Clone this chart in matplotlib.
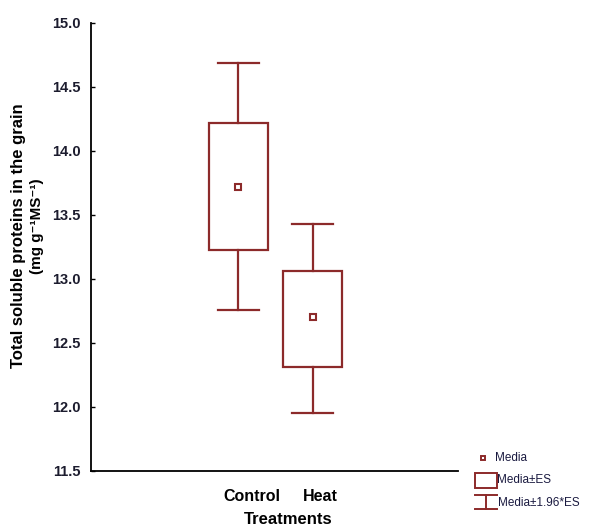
import matplotlib
matplotlib.use("Agg")
import matplotlib.pyplot as plt
from matplotlib.lines import Line2D
from matplotlib.patches import Rectangle
import matplotlib.transforms as mtransforms

plt.rcParams['font.family'] = ['Liberation Sans', 'DejaVu Sans']

# Data
categories = ["Control", "Heat"]
means = [13.72, 12.70]
se_upper = [14.22, 13.06]
se_lower = [13.225, 12.31]
ci_upper = [14.685, 13.43]
ci_lower = [12.755, 11.95]
yticks = [11.5, 12.0, 12.5, 13.0, 13.5, 14.0, 14.5, 15.0]

col = "#8c2a2a"
W, H = 590, 527
fig = plt.figure(figsize=(W/100, H/100), dpi=100)
ax = fig.add_axes([90.7/W, 1-470.7/H, (458-90.7)/W, (470.7-23)/H])

positions = [0, 1]
box_w = 0.8
cap_w = 0.55
for x, m, su, sl, cu, cl in zip(positions, means, se_upper, se_lower, ci_upper, ci_lower):
    ax.add_patch(Rectangle((x-box_w/2, sl), box_w, su-sl, fill=False, edgecolor=col, lw=1.6))
    ax.plot([x, x], [su, cu], color=col, lw=1.6)
    ax.plot([x, x], [sl, cl], color=col, lw=1.6)
    ax.plot([x-cap_w/2, x+cap_w/2], [cu, cu], color=col, lw=1.6)
    ax.plot([x-cap_w/2, x+cap_w/2], [cl, cl], color=col, lw=1.6)
    ax.plot([x], [m], marker='s', ms=4.5, mfc='white', mec=col, mew=1.5, ls='none')

ax.set_xlim(-1.997, 2.966)
ax.set_ylim(11.5, 15.0)
ax.set_yticks(yticks)
ax.set_yticklabels([f"{v:.1f}" for v in yticks], fontsize=10.5, fontweight='bold', color='#1c1c2e')
ax.tick_params(axis='y', direction='in', length=3, width=1, pad=7)
ax.set_xticks(positions)
ax.set_xticklabels(categories, fontsize=11.5, fontweight='bold')
ax.tick_params(axis='x', length=0, pad=13)
offsets = [13.5, 7.5]
for lbl, dx in zip(ax.get_xticklabels(), offsets):
    lbl.set_transform(lbl.get_transform() + mtransforms.ScaledTranslation(dx/100, 0, fig.dpi_scale_trans))

for s in ['top', 'right']:
    ax.spines[s].set_visible(False)
for s in ['left', 'bottom']:
    ax.spines[s].set_linewidth(1.3)
    ax.spines[s].set_color('black')

fig.text(288/W, 1-519/H, "Treatments", ha='center', va='center', fontsize=12, fontweight='bold')
fig.text(18.5/W, 1-236/H, "Total soluble proteins in the grain", rotation=90, ha='center', va='center',
         fontsize=12, fontweight='bold')
fig.text(37/W, 1-226/H, "(mg g\u207b\u00b9MS\u207b\u00b9)", rotation=90, ha='center', va='center',
         fontsize=11, fontweight='bold', family=['Liberation Sans', 'DejaVu Sans'])

# Legend (figure pixel coords)
def px(x, y):
    return x/W, 1-y/H
tf = fig.transFigure
lc = '#1a1a40'
fig.add_artist(Line2D(*zip(px(483, 458)), marker='s', ms=3.5, mfc='white', mec=col, mew=1.4, ls='none', transform=tf))
fig.text(*px(495, 458), "Media", fontsize=8.5, va='center', ha='left', color=lc)
x0, y0 = px(475, 488)
x1, y1 = px(497, 473)
fig.add_artist(Rectangle((x0, y0), x1-x0, y1-y0, fill=False, edgecolor=col, lw=1.4, transform=tf))
fig.text(*px(497, 480), "Media±ES", fontsize=8.5, va='center', ha='left', color=lc)
for (a, b) in [((475, 495), (497, 495)), ((475, 509), (497, 509)), ((486, 495), (486, 509))]:
    fig.add_artist(Line2D([a[0]/W, b[0]/W], [1-a[1]/H, 1-b[1]/H], color=col, lw=1.4, transform=tf))
fig.text(*px(498, 503), "Media±1.96*ES", fontsize=8.5, va='center', ha='left', color=lc)

fig.savefig("out.png", dpi=100)
